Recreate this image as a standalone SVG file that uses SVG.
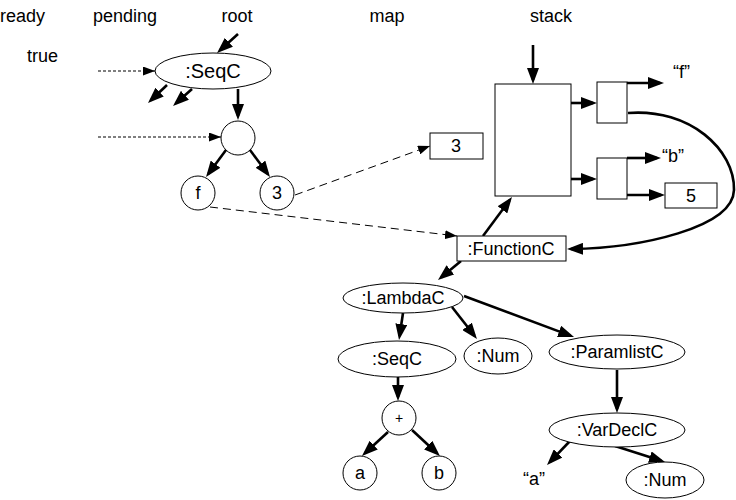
<svg xmlns="http://www.w3.org/2000/svg" width="736" height="500" viewBox="0 0 736 500">
<style>
text{font-family:"Liberation Sans",Arial,sans-serif;font-size:18px;fill:#000}
.c{text-anchor:middle}
.shape{fill:#fff;stroke:#000;stroke-width:1}
.bold{fill:none;stroke:#000;stroke-width:2.6;marker-end:url(#ah)}
.dash{fill:none;stroke:#000;stroke-width:1;stroke-dasharray:8,5;marker-end:url(#ahs)}
.dot{fill:none;stroke:#000;stroke-width:1.2;stroke-dasharray:3,2;marker-end:url(#ahs)}
</style>
<defs>
<marker id="ah" markerUnits="userSpaceOnUse" viewBox="0 0 16 12" refX="12" refY="6" markerWidth="16" markerHeight="12" orient="auto"><path d="M0,0 L16,6 L0,12 z" fill="#000"/></marker>
<marker id="ahs" markerUnits="userSpaceOnUse" viewBox="0 0 12 9" refX="12" refY="4.5" markerWidth="12" markerHeight="9" orient="auto"><path d="M0,0 L12,4.5 L0,9 z" fill="#000"/></marker>
</defs>
<g id="labels">
<text x="0" y="22">ready</text>
<text x="125" y="22" class="c">pending</text>
<text x="237" y="22" class="c">root</text>
<text x="387" y="22" class="c">map</text>
<text x="551" y="22" class="c">stack</text>
<text x="27" y="62">true</text>
</g>
<g id="connectors">
<path class="bold" d="M238,34 L220,50.3"/>
<path class="bold" d="M167,85 L150.9,100.3"/>
<path class="bold" d="M192,89 L176,103.3"/>
<path class="bold" d="M238,89 L238,116"/>
<path class="bold" d="M226,150 L208.4,173.8"/>
<path class="bold" d="M250,150 L267.6,173.8"/>
<path class="bold" d="M533,45 L533,80"/>
<path class="bold" d="M571,103 L593,103"/>
<path class="bold" d="M571,179 L593,179"/>
<path class="bold" d="M627,83 L660,83"/>
<path class="bold" d="M627,158 L657,158"/>
<path class="bold" d="M627,195 L661,195"/>
<path class="bold" d="M628,113 C690,108 735,150 734,190 C733,228 640,248 571,249"/>
<path class="bold" d="M483,236 L509.6,200.2"/>
<path class="bold" d="M461,261 L441.1,277.4"/>
<path class="bold" d="M403,313 L399.6,336"/>
<path class="bold" d="M452,307 L474.5,335.8"/>
<path class="bold" d="M464,296 L570.3,335.6"/>
<path class="bold" d="M617,370 L617,409"/>
<path class="bold" d="M570,441 L549.8,462.1"/>
<path class="bold" d="M615,446 L661.2,460.8"/>
<path class="bold" d="M398,377 L398,397"/>
<path class="bold" d="M388,432 L364.9,453.3"/>
<path class="bold" d="M412,430 L437,453.3"/>
<path class="dot" d="M98,71 L155,71"/>
<path class="dot" d="M98,137 L221,137"/>
<path class="dash" d="M295,195 L430,146"/>
<path class="dash" d="M210,207 L457,236"/>
</g>
<g id="seqc-root"><ellipse class="shape" cx="213" cy="71" rx="58" ry="18"/><text x="213" y="78" class="c" style="font-size:20px">:SeqC</text></g>
<g id="seq-circle"><circle class="shape" cx="238" cy="138" r="17"/></g>
<g id="f-circle"><circle class="shape" cx="198" cy="193" r="17"/><text x="198" y="199" class="c">f</text></g>
<g id="three-circle"><circle class="shape" cx="277" cy="193" r="17"/><text x="277" y="199" class="c">3</text></g>
<g id="map-3"><rect class="shape" x="430" y="133" width="53" height="26"/><text x="456" y="152" class="c">3</text></g>
<g id="stack-frame"><rect class="shape" x="495" y="84" width="76" height="112"/></g>
<g id="cell1"><rect class="shape" x="597" y="82" width="30" height="41"/></g>
<g id="cell2"><rect class="shape" x="597" y="158" width="30" height="41"/></g>
<g id="str-f"><text x="673" y="78">“f”</text></g>
<g id="str-b"><text x="662" y="162">“b”</text></g>
<g id="box-5"><rect class="shape" x="665" y="183" width="52" height="25"/><text x="691" y="202" class="c">5</text></g>
<g id="functionc"><rect class="shape" x="457" y="236" width="109" height="25"/><text x="511" y="255" class="c">:FunctionC</text></g>
<g id="lambdac"><ellipse class="shape" cx="403" cy="298" rx="60" ry="15"/><text x="403" y="304" class="c">:LambdaC</text></g>
<g id="seqc2"><ellipse class="shape" cx="397" cy="359" rx="59" ry="18"/><text x="397" y="365" class="c">:SeqC</text></g>
<g id="num1"><ellipse class="shape" cx="498" cy="356" rx="34" ry="18"/><text x="498" y="362" class="c">:Num</text></g>
<g id="paramlistc"><ellipse class="shape" cx="617" cy="352" rx="68" ry="17"/><text x="617" y="358" class="c">:ParamlistC</text></g>
<g id="vardeclc"><ellipse class="shape" cx="617" cy="430" rx="68" ry="17"/><text x="617" y="436" class="c">:VarDeclC</text></g>
<g id="plus"><circle class="shape" cx="399" cy="418" r="17"/><text x="399" y="423" class="c" style="font-size:14px">+</text></g>
<g id="a-circle"><circle class="shape" cx="360" cy="473" r="17"/><text x="360" y="479" class="c">a</text></g>
<g id="b-circle"><circle class="shape" cx="439" cy="473" r="17"/><text x="439" y="479" class="c">b</text></g>
<g id="str-a"><text x="523" y="485">“a”</text></g>
<g id="num2"><ellipse class="shape" cx="665" cy="480" rx="39" ry="18"/><text x="665" y="486" class="c">:Num</text></g>
</svg>
